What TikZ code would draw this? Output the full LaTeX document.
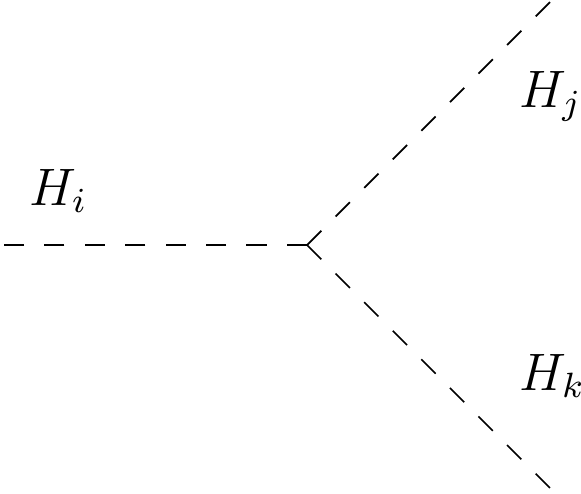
\documentclass[tikz,border=0pt]{standalone}
\usetikzlibrary{positioning}

\tikzset{
  scalar/.style={dash pattern=on 4.6pt off 4.6pt},
  field/.style={inner sep=0pt, anchor=base west, font=\fontsize{11.5}{14}\selectfont}
}

\begin{document}
\begin{tikzpicture}

        % Frame
        \useasboundingbox (0,0) rectangle (4.648,3.944);

        % Vertex and external ends
        \coordinate (v) at (2.456,1.984);
        \coordinate (hi) at (0,1.984);
        \coordinate (hj) at (4.416,3.944);
        \coordinate (hk) at (4.416,0.024);

        % Scalar lines
        \draw[scalar] (v) -- (hi);
        \draw[scalar] (v) -- (hj);
        \draw[scalar] (v) -- (hk);

        % Labels
        \node[field] (li) at (0.23,2.304) {$H_i$};
        \node[field] (lj) at (4.15,3.088) {$H_j$};
        \node[field] (lk) at (4.15,0.824) {$H_k$};

\end{tikzpicture}
\end{document}
